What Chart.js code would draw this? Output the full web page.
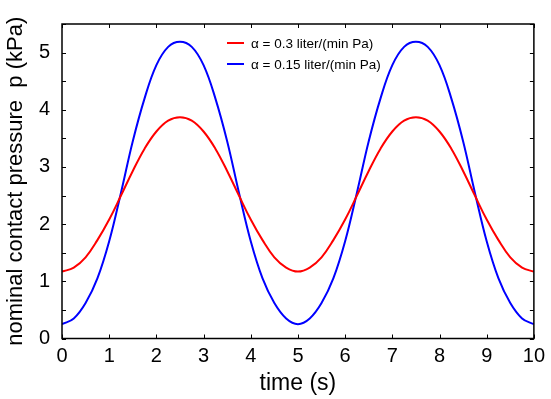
<!DOCTYPE html>
<html>
<head>
<meta charset="utf-8">
<script src="https://cdn.jsdelivr.net/npm/chart.js@4/dist/chart.umd.min.js"></script>
<style>
html,body{margin:0;padding:0;background:#fff;}
#wrap{width:551px;height:399px;}
</style>
</head>
<body>
<div id="wrap"><canvas id="c" width="551" height="399"></canvas></div>
<script>
// Data
const timeS = [0,0.25,0.5,0.75,1,1.25,1.5,1.75,2,2.25,2.5,2.75,3,3.25,3.5,3.75,4,4.25,4.5,4.75,5,
               5.25,5.5,5.75,6,6.25,6.5,6.75,7,7.25,7.5,7.75,8,8.25,8.5,8.75,9,9.25,9.5,9.75,10];
const pressureAlpha03 = [1.17,1.24,1.42,1.72,2.08,2.50,2.93,3.32,3.62,3.81,3.87,3.81,3.62,3.32,2.93,2.50,2.08,1.72,1.42,1.24,1.17,
                         1.24,1.42,1.72,2.08,2.50,2.93,3.32,3.62,3.81,3.87,3.81,3.62,3.32,2.93,2.50,2.08,1.72,1.42,1.24,1.17];
const pressureAlpha015 = [0.25,0.35,0.62,1.05,1.70,2.55,3.45,4.20,4.78,5.10,5.19,5.10,4.78,4.20,3.45,2.55,1.70,1.05,0.62,0.35,0.25,
                          0.35,0.62,1.05,1.70,2.55,3.45,4.20,4.78,5.10,5.19,5.10,4.78,4.20,3.45,2.55,1.70,1.05,0.62,0.35,0.25];
const seriesLabels = ['\u03b1 = 0.3 liter/(min Pa)', '\u03b1 = 0.15 liter/(min Pa)'];
const xTicks = [0,1,2,3,4,5,6,7,8,9,10];
const yTicks = [0,0.5,1,1.5,2,2.5,3,3.5,4,4.5,5,5.5];

const FONT = "'Liberation Sans', Arial, sans-serif";

const frameTicks = {
  id: 'frameTicks',
  afterDraw(chart) {
    const {ctx, chartArea: a, scales: {x, y}} = chart;
    ctx.save();
    ctx.strokeStyle = '#000';
    ctx.lineWidth = 1.5;
    ctx.strokeRect(a.left, a.top, a.right - a.left, a.bottom - a.top);
    ctx.lineWidth = 1;
    ctx.beginPath();
    xTicks.forEach(v => {
      const px = Math.round(x.getPixelForValue(v)) + 0.5;
      ctx.moveTo(px, a.bottom); ctx.lineTo(px, a.bottom - 4);
      ctx.moveTo(px, a.top); ctx.lineTo(px, a.top + 4);
    });
    yTicks.forEach(v => {
      const py = Math.round(y.getPixelForValue(v)) + 0.5;
      ctx.moveTo(a.left, py); ctx.lineTo(a.left + 4, py);
      ctx.moveTo(a.right, py); ctx.lineTo(a.right - 4, py);
    });
    ctx.stroke();
    // legend
    const lx0 = 227, lx1 = 244, tx = 251;
    const ly = [43, 64];
    chart.data.datasets.forEach((ds, i) => {
      ctx.strokeStyle = ds.borderColor;
      ctx.lineWidth = 2;
      ctx.beginPath();
      ctx.moveTo(lx0, ly[i]); ctx.lineTo(lx1, ly[i]);
      ctx.stroke();
      ctx.fillStyle = '#000';
      ctx.font = '13.5px ' + FONT;
      ctx.textBaseline = 'middle';
      ctx.textAlign = 'left';
      ctx.fillText(ds.label, tx, ly[i] + 1);
    });
    ctx.restore();
  }
};

new Chart(document.getElementById('c'), {
  type: 'line',
  data: {
    labels: timeS,
    datasets: [
      {label: seriesLabels[0], data: timeS.map((t, i) => ({x: t, y: pressureAlpha03[i]})),
       borderColor: '#ff0000', borderWidth: 2, pointRadius: 0, tension: 0.4, fill: false},
      {label: seriesLabels[1], data: timeS.map((t, i) => ({x: t, y: pressureAlpha015[i]})),
       borderColor: '#0000ff', borderWidth: 2, pointRadius: 0, tension: 0.4, fill: false}
    ]
  },
  options: {
    responsive: false,
    animation: false,
    devicePixelRatio: 1,
    layout: {padding: {left: 0, right: 12, top: 5, bottom: 0}},
    plugins: {legend: {display: false}, tooltip: {enabled: false}},
    scales: {
      x: {
        type: 'linear', min: 0, max: 10,
        afterBuildTicks: s => { s.ticks = xTicks.map(v => ({value: v})); },
        afterFit: s => { s.height = 399 - 338.5; },
        grid: {display: false, drawTicks: false},
        border: {display: false},
        ticks: {color: '#000', font: {family: FONT, size: 20}, padding: 6, maxRotation: 0,
                callback: v => String(v)},
        title: {display: true, text: 'time (s)', color: '#000',
                font: {family: FONT, size: 23}, padding: {top: 0, bottom: 2}}
      },
      y: {
        type: 'linear', min: 0, max: 5.5,
        afterBuildTicks: s => { s.ticks = yTicks.map(v => ({value: v})); },
        afterFit: s => { s.width = 62; },
        grid: {display: false, drawTicks: false},
        border: {display: false},
        ticks: {color: '#000', font: {family: FONT, size: 20}, padding: 12,
                callback: v => (Number.isInteger(v) ? String(v) : '')},
        title: {display: true, text: 'nominal contact pressure  p (kPa)', color: '#000',
                font: {family: FONT, size: 22}, padding: {top: 3, bottom: 0}}
      }
    }
  },
  plugins: [frameTicks]
});
</script>
</body>
</html>
